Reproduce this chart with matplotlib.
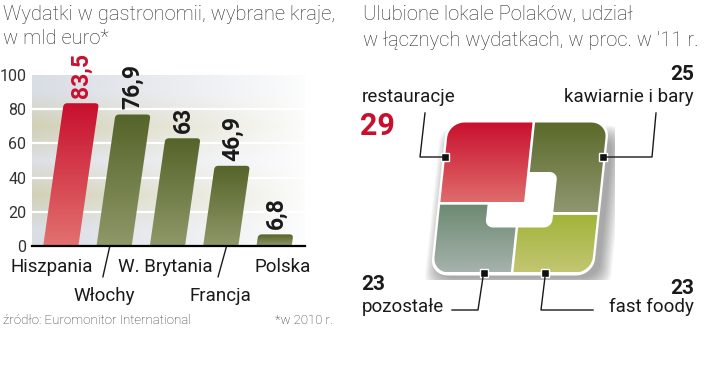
import numpy as np
import matplotlib
matplotlib.use('Agg')
import matplotlib.pyplot as plt
from matplotlib.patches import FancyBboxPatch, Polygon
from matplotlib.transforms import Affine2D
from matplotlib.colors import LinearSegmentedColormap, to_rgb
from matplotlib.lines import Line2D

# dane - lewy wykres
kraje = ['Hiszpania', 'Włochy', 'W. Brytania', 'Francja', 'Polska']
wydatki = [83.5, 76.9, 63, 46.9, 6.8]
etykiety = ['83,5', '76,9', '63', '46,9', '6,8']

# dane - prawy wykres
lokale = ['restauracje', 'kawiarnie i bary', 'pozostałe', 'fast foody']
udzial = [29, 25, 23, 23]

plt.rcParams['font.family'] = ['Roboto', 'DejaVu Sans']

CZERWONY = '#c8102e'
TEKST = '#1a1a1a'
TYTUL = '#2a2a2a'

fig = plt.figure(figsize=(7.2, 3.9), dpi=100)


def fx(x):
    return x / 720


def fy(y):
    return 1 - y / 390


def gradient(c_dol, c_gora):
    return LinearSegmentedColormap.from_list('g', [c_dol, c_gora])


# ---------------- lewy wykres ----------------
ax = fig.add_axes([fx(32), fy(246), (305 - 32) / 720, (246 - 75) / 390])

# tlo w pasy, wygaszane w prawo
pasy = ['#d9dde4', '#d2d0b5', '#dde0e6', '#d2d0b5', '#d9dde4']
n = 200
wygas = np.linspace(1, 0.05, n) ** 0.9
tlo = np.zeros((5, n, 3))
for j, c in enumerate(pasy):
    rgb = np.array(to_rgb(c))
    tlo[j] = 1 - (1 - rgb)[None, :] * wygas[:, None]
ax.imshow(tlo, extent=(-0.54, 4.58, 0, 100), origin='lower', aspect='auto',
          interpolation='bilinear', zorder=0)
for yy in [20, 40, 60, 80]:
    ax.axhline(yy, color='white', lw=1.6, zorder=1)

k = 0.0046  # pochylenie slupkow
skos = Affine2D().skew(np.arctan(k), 0)
w = 0.66
for i, v in enumerate(wydatki):
    x0 = i - w / 2
    slupek = FancyBboxPatch((x0, -5), w, v + 5,
                            boxstyle='round,pad=0,rounding_size=0.07',
                            mutation_aspect=30, facecolor='none',
                            edgecolor='none', zorder=3)
    slupek.set_transform(skos + ax.transData)
    ax.add_patch(slupek)
    if i == 0:
        cmap = gradient('#e2716f', CZERWONY)
    else:
        cmap = gradient('#8e9868', '#55642a')
    grad = np.linspace(0, 1, 100).reshape(-1, 1)
    im = ax.imshow(grad, extent=(x0 - 0.05, x0 + w + k * v + 0.05, 0, v),
                   origin='lower', aspect='auto', cmap=cmap, zorder=3)
    im.set_clip_path(slupek)
    ax.text(i + k * v, v + 3, etykiety[i], rotation=90, ha='center',
            va='bottom', fontsize=16.5, fontweight='bold',
            color=CZERWONY if i == 0 else TEKST, clip_on=False)

ax.set_xlim(-0.54, 4.58)
ax.set_ylim(0, 100)
for s in ['left', 'top', 'right']:
    ax.spines[s].set_visible(False)
ax.spines['bottom'].set_linewidth(1.6)
ax.spines['bottom'].set_zorder(5)
ax.set_xticks([])
ax.set_yticks([0, 20, 40, 60, 80, 100])
ax.tick_params(axis='y', length=0, pad=4, labelsize=11.5, labelcolor='#333333')

# podpisy krajow
przes = [-0.17, -0.18, -0.04, 0.0, 0.17]
for i, nazwa in enumerate(kraje):
    yy = -12.5 if i % 2 == 0 else -29
    ax.text(i + przes[i], yy, nazwa, ha='center', va='center', fontsize=13.5,
            color=TEKST, clip_on=False)
ax.plot([0.92, 0.79], [0, -18], color=TEKST, lw=1, clip_on=False)
ax.plot([3.11, 2.95], [0, -18], color=TEKST, lw=1, clip_on=False)

fig.text(fx(3), fy(14), 'Wydatki w gastronomii, wybrane kraje,', fontsize=14.5,
         fontweight='light', color=TYTUL, va='center')
fig.text(fx(3), fy(39), 'w mld euro*', fontsize=14.5, fontweight='light',
         color=TYTUL, va='center')
fig.text(fx(3), fy(320), 'źródło: Euromonitor International', fontsize=9.5,
         fontweight='light', color=TYTUL, va='center')
fig.text(fx(333), fy(320), '*w 2010 r.', fontsize=9.5, fontweight='light',
         color=TYTUL, va='center', ha='right')

# ---------------- prawy wykres ----------------
g = fig.add_axes([fx(425), fy(280), 190 / 720, 165 / 390])
g.set_xlim(-0.05, 1.15)
g.set_ylim(-0.05, 1.05)
g.axis('off')
sk = 0.1
skos2 = Affine2D().skew(np.arctan(sk), 0) + g.transData


def zaokr(x0, y0, x1, y1, r):
    pts = []
    rogi = [(x0 + r[0], y0 + r[0], r[0], 180), (x1 - r[1], y0 + r[1], r[1], 270),
            (x1 - r[2], y1 - r[2], r[2], 0), (x0 + r[3], y1 - r[3], r[3], 90)]
    for cx, cy, rr, a0 in rogi:
        t = np.radians(np.linspace(a0, a0 + 90, 10))
        pts += list(zip(cx + rr * np.cos(t), cy + rr * np.sin(t)))
    return np.array(pts)


R = 0.1
# cien
for s in range(14):
    d = 0.006 * s
    cien = Polygon(zaokr(0.03 - d, -0.035 - d, 1.05 + d, 0.9 + d, (R,) * 4),
                   closed=True, facecolor='#444444', edgecolor='none',
                   alpha=0.04, zorder=1)
    cien.set_transform(skos2)
    g.add_patch(cien)
obrys = Polygon(zaokr(-0.015, -0.02, 1.015, 1.015, (R + 0.01,) * 4), closed=True,
                facecolor='white', edgecolor='none', zorder=2)
obrys.set_transform(skos2)
g.add_patch(obrys)

suma = sum(udzial)
v_pod = (udzial[2] + udzial[3]) / suma
u_gora = udzial[0] / (udzial[0] + udzial[1])
u_dol = udzial[2] / (udzial[2] + udzial[3])
gap = 0.008

kafle = [
    (0, v_pod + gap, u_gora - gap, 1, (0, 0, 0, R), CZERWONY, '#df6b6b', 6),
    (u_gora + gap, v_pod - 0.06, 1, 1, (0, 0, R, 0), '#5b6a2a', '#8f9670', 3),
    (0, 0, u_dol - gap, v_pod - gap, (R, 0, 0, 0), '#6d8a72', '#a6b2ac', 3),
    (u_dol + gap, 0, 1, v_pod - 0.06 - 2 * gap, (0, R, 0, 0), '#a2b43a', '#c2c672', 4),
]
grad = np.linspace(0, 1, 100).reshape(-1, 1)
for x0, y0, x1, y1, r, c_gora, c_dol, z in kafle:
    kafel = Polygon(zaokr(x0, y0, x1, y1, r), closed=True, facecolor='none',
                    edgecolor='none', zorder=z)
    kafel.set_transform(skos2)
    g.add_patch(kafel)
    im = g.imshow(grad, extent=(x0 - 0.02, x1 + sk + 0.02, y0, y1),
                  origin='lower', aspect='auto', cmap=gradient(c_dol, c_gora),
                  zorder=z)
    im.set_clip_path(kafel)

dziura = Polygon(zaokr(0.3, 0.3, 0.72, 0.67, (0.05,) * 4), closed=True,
                 facecolor='white', edgecolor='none', zorder=5)
dziura.set_transform(skos2)
g.add_patch(dziura)

g.plot([0, 1, 0.32, 0.71], [0.77, 0.77, 0, 0], 's', color='#111111',
       markersize=6, markeredgecolor='white', markeredgewidth=1,
       transform=skos2, zorder=8, clip_on=False)
g.set_xlim(-0.05, 1.15)
g.set_ylim(-0.05, 1.05)


def linia(xs, ys):
    fig.add_artist(Line2D([fx(x) for x in xs], [fy(y) for y in ys],
                          color=TEKST, lw=1, transform=fig.transFigure))


linia([425, 420, 443], [113, 157, 157])
linia([602, 652, 656], [157, 157, 113])
linia([483, 478, 452], [277, 310, 310])
linia([545, 541, 593], [277, 310, 310])

fig.text(fx(363), fy(14), 'Ulubione lokale Polaków, udział', fontsize=14.5,
         fontweight='light', color=TYTUL, va='center')
fig.text(fx(363), fy(40), "w łącznych wydatkach, w proc. w '11 r.", fontsize=14.5,
         fontweight='light', color=TYTUL, va='center')

fig.text(fx(362), fy(97), lokale[0], fontsize=13.5, color=TEKST, va='center')
fig.text(fx(360), fy(126), str(udzial[0]), fontsize=22, fontweight='bold',
         color=CZERWONY, va='center')
fig.text(fx(694), fy(97), lokale[1], fontsize=13.5, color=TEKST, va='center', ha='right')
fig.text(fx(694), fy(75), str(udzial[1]), fontsize=15, fontweight='bold',
         color=TEKST, va='center', ha='right')
fig.text(fx(362), fy(307), lokale[2], fontsize=13.5, color=TEKST, va='center')
fig.text(fx(361), fy(285), str(udzial[2]), fontsize=15, fontweight='bold',
         color=TEKST, va='center')
fig.text(fx(694), fy(307), lokale[3], fontsize=13.5, color=TEKST, va='center', ha='right')
fig.text(fx(694), fy(288), str(udzial[3]), fontsize=15, fontweight='bold',
         color=TEKST, va='center', ha='right')

fig.savefig('out.png', dpi=100)
